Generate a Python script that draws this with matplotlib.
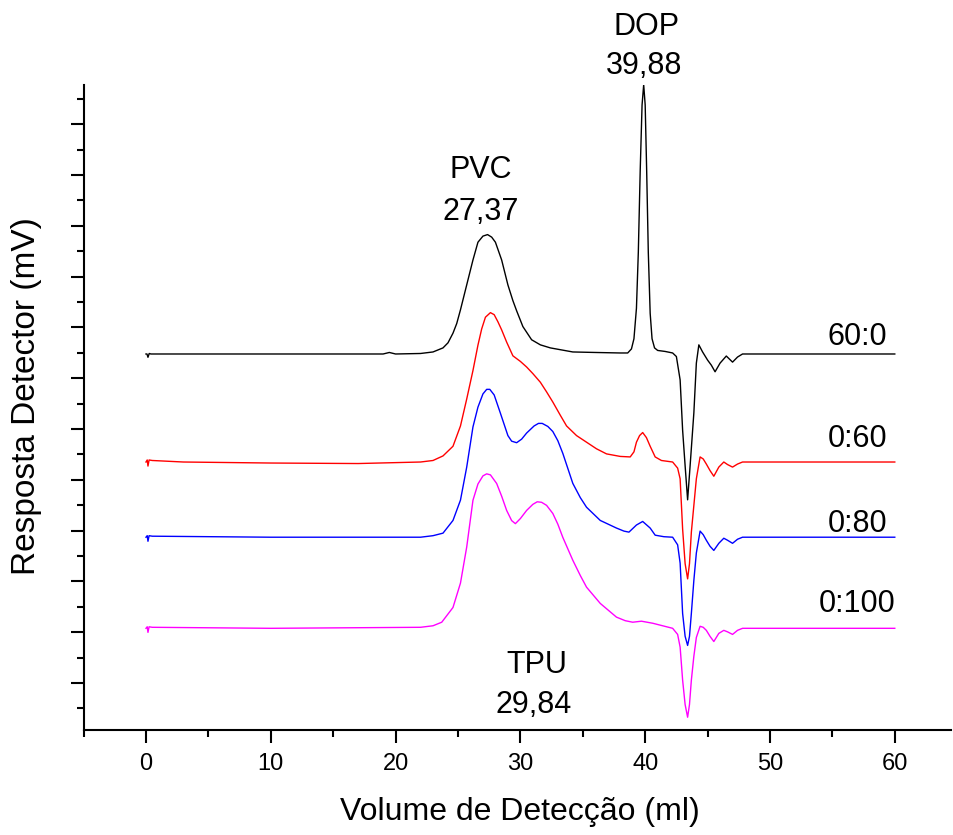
import matplotlib
matplotlib.use("Agg")
import matplotlib.pyplot as plt
from matplotlib.ticker import MultipleLocator, NullFormatter
import numpy as np

plt.rcParams['font.family'] = ['Liberation Sans', 'DejaVu Sans']

# signal above each trace's own baseline
x_6000 = [0.0, 0.08, 0.16, 0.26, 0.4, 5, 10, 15, 19.0, 19.5, 20.0, 22.0, 23.0, 23.8, 24.2, 24.6,
          24.9, 25.2, 25.7, 26.2, 26.6, 27.0, 27.37, 27.7, 28.0, 28.5, 29.0, 29.4, 29.7, 30.2,
          30.9, 31.6, 32.4, 34.2, 36.0, 38.0, 38.6, 38.9, 39.1, 39.3, 39.45, 39.6, 39.75, 39.88,
          40.0, 40.12, 40.25, 40.4, 40.55, 40.75, 41.0, 41.6, 42.2, 42.5, 42.8, 43.0, 43.2, 43.4,
          43.6, 43.9, 44.1, 44.3, 44.6, 45.0, 45.3, 45.6, 46.0, 46.5, 47.0, 47.4, 47.8, 52, 60]
y_6000 = [0, 0, -0.065, 0.01, 0, 0, 0, 0, 0, 0.03, 0, 0.01, 0.04, 0.12, 0.22, 0.41,
          0.6, 0.87, 1.36, 1.85, 2.2, 2.32, 2.35, 2.3, 2.2, 1.85, 1.36, 1.05, 0.85, 0.54,
          0.28, 0.18, 0.12, 0.04, 0.03, 0.02, 0.02, 0.1, 0.3, 0.9, 2.0, 3.6, 4.9, 5.3,
          4.9, 3.6, 2.0, 0.8, 0.3, 0.12, 0.07, 0.05, 0.02, -0.05, -0.51, -1.5, -2.2, -2.87,
          -2.2, -1.16, -0.18, 0.18, 0.04, -0.12, -0.22, -0.35, -0.18, -0.04, -0.16, -0.06, 0.0, 0, 0]

x_060 = [0.0, 0.1, 0.16, 0.25, 0.5, 3, 10, 17, 22, 23.0, 23.8, 24.6, 25.2, 25.7, 26.2, 26.6,
         26.9, 27.2, 27.6, 27.9, 28.2, 28.5, 28.9, 29.4, 30.0, 30.5, 31.0, 31.6, 32.1, 32.6,
         33.2, 33.7, 34.5, 35.3, 36.1, 36.9, 38.0, 38.8, 39.1, 39.3, 39.55, 39.8, 40.1, 40.4,
         40.8, 41.3, 42.2, 42.6, 42.8, 43.0, 43.2, 43.4, 43.55, 43.7, 44.1, 44.4, 44.65, 44.9,
         45.2, 45.5, 45.9, 46.3, 46.6, 47.0, 47.4, 47.8, 52, 60]
y_060 = [0, 0.04, -0.08, 0.04, 0.03, 0.0, -0.02, -0.03, 0.0, 0.03, 0.12, 0.31, 0.71, 1.24, 1.8, 2.3,
         2.62, 2.85, 2.94, 2.9, 2.76, 2.6, 2.36, 2.09, 1.98, 1.87, 1.74, 1.57, 1.38, 1.18,
         0.92, 0.71, 0.52, 0.39, 0.26, 0.16, 0.11, 0.10, 0.2, 0.39, 0.52, 0.58, 0.48, 0.31,
         0.1, 0.03, 0.0, -0.12, -0.33, -1.32, -2.0, -2.3, -2.0, -1.38, -0.33, 0.1, 0.06, -0.04,
         -0.17, -0.28, -0.1, 0.0, -0.05, -0.1, -0.04, 0, 0, 0]

x_080 = [0.0, 0.1, 0.16, 0.25, 0.5, 10, 22, 23.0, 23.8, 24.6, 25.2, 25.7, 26.2, 26.6, 27.0, 27.3,
         27.55, 27.9, 28.4, 29.0, 29.3, 29.7, 30.1, 30.5, 31.1, 31.45, 31.75, 32.2, 32.6, 33.0,
         33.4, 34.2, 34.8, 35.3, 36.4, 37.7, 38.3, 38.7, 39.3, 39.8, 40.4, 40.8, 41.5, 42.2,
         42.6, 42.8, 43.0, 43.2, 43.4, 43.55, 43.7, 43.9, 44.1, 44.4, 44.65, 44.9, 45.2, 45.5,
         45.9, 46.3, 46.6, 47.0, 47.4, 47.8, 52, 60]
y_080 = [0, 0.03, -0.08, 0.03, 0.02, 0, 0, 0.03, 0.08, 0.33, 0.73, 1.38, 2.17, 2.56, 2.82, 2.91,
         2.91, 2.8, 2.44, 2.0, 1.89, 1.86, 1.93, 2.05, 2.19, 2.24, 2.24, 2.18, 2.08, 1.9,
         1.65, 1.06, 0.78, 0.59, 0.33, 0.18, 0.12, 0.1, 0.24, 0.31, 0.18, 0.04, 0.01, 0,
         -0.15, -0.51, -1.5, -1.95, -2.13, -1.95, -1.5, -0.85, -0.31, 0.12, 0.05, -0.06, -0.18, -0.26,
         -0.12, -0.02, -0.06, -0.12, -0.04, 0, 0, 0]

x_0100 = [0.0, 0.1, 0.16, 0.25, 0.5, 10, 22, 23.0, 23.7, 24.6, 25.2, 25.7, 26.2, 26.6, 27.0, 27.3,
          27.6, 28.1, 28.5, 28.9, 29.3, 29.6, 30.0, 30.5, 31.0, 31.35, 31.7, 32.1, 32.6, 33.0,
          33.4, 34.2, 34.8, 35.3, 36.4, 37.7, 38.4, 39.0, 39.7, 40.6, 41.4, 42.2, 42.6, 42.8,
          43.0, 43.2, 43.4, 43.55, 43.7, 43.9, 44.1, 44.4, 44.65, 44.9, 45.2, 45.5, 45.9, 46.3,
          46.6, 47.0, 47.4, 47.8, 52, 60]
y_0100 = [0, 0.03, -0.08, 0.03, 0.02, 0, 0.02, 0.05, 0.12, 0.41, 0.89, 1.6, 2.52, 2.84, 3.0, 3.04,
          3.02, 2.85, 2.6, 2.32, 2.12, 2.06, 2.16, 2.32, 2.44, 2.49, 2.48, 2.42, 2.26, 2.05,
          1.79, 1.34, 1.04, 0.81, 0.49, 0.22, 0.15, 0.12, 0.14, 0.1, 0.05, 0, -0.12, -0.37,
          -1.02, -1.5, -1.75, -1.5, -1.02, -0.55, -0.18, 0.04, 0.02, -0.04, -0.16, -0.26, -0.1, -0.04,
          -0.07, -0.12, -0.04, 0, 0, 0]

names = ['60:0', '0:60', '0:80', '0:100']
offsets = [6.476, 4.35, 2.87, 1.077]
colors = ['black', '#ff0000', '#0000ff', '#ff00ff']
xs = [x_6000, x_060, x_080, x_0100]
ys = [y_6000, y_060, y_080, y_0100]

fig = plt.figure(figsize=(9.54, 8.35), dpi=100)
ax = fig.add_axes([0.0876, 0.1262, 0.9092, 0.7726])

for x, y, off, c in zip(xs[::-1], ys[::-1], offsets[::-1], colors[::-1]):
    ax.plot(x, np.array(y) + off, color=c, lw=1.0)

# series names at the right end of each trace
label_y = [6.65, 4.65, 2.98, 1.40]
for name, ly in zip(names, label_y):
    ax.text(57.0, ly, name, ha='center', va='baseline', fontsize=22)

# peak annotations
ax.text(40.1, 12.76, 'DOP', ha='center', va='baseline', fontsize=22, clip_on=False)
ax.text(39.9, 11.99, '39,88', ha='center', va='baseline', fontsize=22, clip_on=False)
ax.text(26.84, 9.94, 'PVC', ha='center', va='baseline', fontsize=22)
ax.text(26.84, 9.11, '27,37', ha='center', va='baseline', fontsize=22)
ax.text(31.3, 0.197, 'TPU', ha='center', va='baseline', fontsize=22)
ax.text(31.05, -0.59, '29,84', ha='center', va='baseline', fontsize=22)

ax.set_xlim(-5, 64.5)
ax.set_ylim(-0.917, 11.78)
ax.spines['top'].set_visible(False)
ax.spines['right'].set_visible(False)
ax.spines['left'].set_linewidth(1.5)
ax.spines['bottom'].set_linewidth(1.5)

ax.set_xticks([0, 10, 20, 30, 40, 50, 60])
ax.xaxis.set_minor_locator(MultipleLocator(5))
ax.yaxis.set_major_locator(MultipleLocator(1))
ax.yaxis.set_minor_locator(MultipleLocator(0.5))
ax.yaxis.set_major_formatter(NullFormatter())
ax.tick_params(which='major', length=9.5, width=1.5, labelsize=17, pad=7)
ax.tick_params(which='minor', length=5, width=1.5)

ax.set_xlabel('Volume de Detecção (ml)', fontsize=23)
ax.set_ylabel('Resposta Detector (mV)', fontsize=24)
ax.xaxis.set_label_coords(0.503, -0.1045)
ax.yaxis.set_label_coords(-0.048, 0.517)

fig.savefig('out.png', dpi=100)
